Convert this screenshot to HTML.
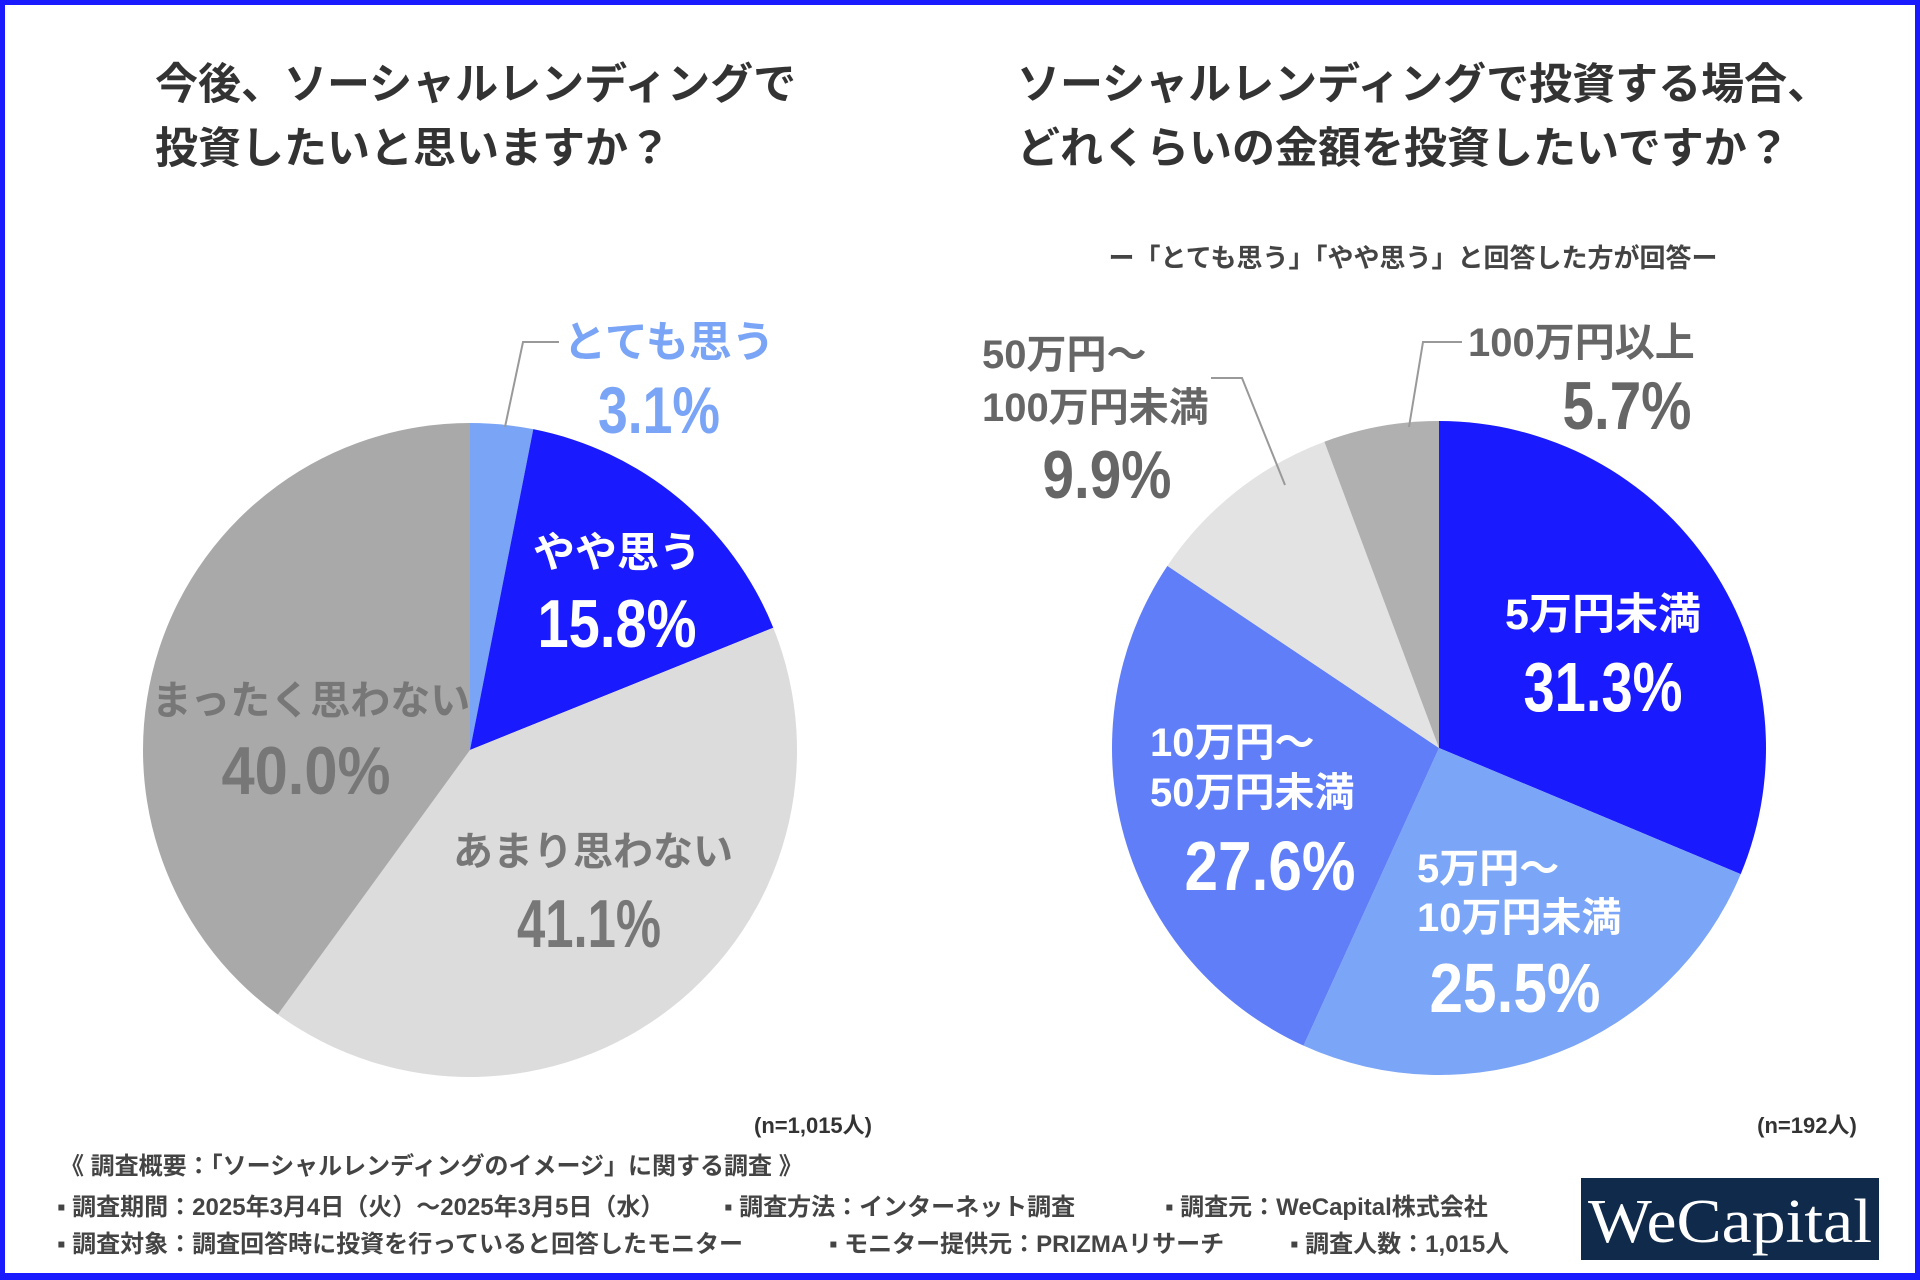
<!DOCTYPE html>
<html><head><meta charset="utf-8">
<style>
html,body{margin:0;padding:0;background:#fff;}
#wrap{position:relative;width:1920px;height:1280px;overflow:hidden;box-sizing:border-box;border:5px solid #1a1aff;border-bottom-width:7px;}
svg{position:absolute;left:0;top:0;}
text{font-family:"Liberation Sans","Noto Sans CJK JP",sans-serif;font-weight:bold;}
</style></head><body>
<div id="wrap">
<svg id="s" width="1920" height="1280" viewBox="0 0 1920 1280">
<g fill="#333" font-size="43">
<text x="150" y="94">今後、ソーシャルレンディングで</text>
<text x="150" y="158">投資したいと思いますか？</text>
<text x="1012" y="94">ソーシャルレンディングで投資する場合、</text>
<text x="1012" y="158">どれくらいの金額を投資したいですか？</text>
</g>
<text x="1408" y="262" font-size="26" fill="#444" text-anchor="middle">ー「とても思う」「やや思う」と回答した方が回答ー</text>
<g id="pies"></g>
<g fill="none" stroke="#999" stroke-width="2">
<polyline points="500,422 518,337 554,337"/>
<polyline points="1206,373 1237,373 1280,480"/>
<polyline points="1404,422 1418,337 1457,337"/>
</g>
<g text-anchor="middle">
<text x="664" y="352" font-size="43" fill="#7aa4f5">とても思う</text>
<text x="654" y="428" font-size="66" fill="#7aa4f5" textLength="122" lengthAdjust="spacingAndGlyphs">3.1%</text>
<text x="612" y="562" font-size="42" fill="#fff">やや思う</text>
<text x="612" y="642" font-size="68" fill="#fff" textLength="159" lengthAdjust="spacingAndGlyphs">15.8%</text>
<text x="306" y="709" font-size="40" fill="#777">まったく思わない</text>
<text x="301" y="789" font-size="68" fill="#777" textLength="169" lengthAdjust="spacingAndGlyphs">40.0%</text>
<text x="588" y="860" font-size="40" fill="#777">あまり思わない</text>
<text x="584" y="942" font-size="68" fill="#777" textLength="144" lengthAdjust="spacingAndGlyphs">41.1%</text>
<text x="1102" y="493" font-size="68" fill="#666" textLength="129" lengthAdjust="spacingAndGlyphs">9.9%</text>
<text x="1622" y="424" font-size="68" fill="#666" textLength="129" lengthAdjust="spacingAndGlyphs">5.7%</text>
<text x="1598" y="624" font-size="43" fill="#fff">5万円未満</text>
<text x="1598" y="706" font-size="70" fill="#fff" textLength="159" lengthAdjust="spacingAndGlyphs">31.3%</text>
<text x="1265" y="885" font-size="70" fill="#fff" textLength="171" lengthAdjust="spacingAndGlyphs">27.6%</text>
<text x="1510" y="1007" font-size="70" fill="#fff" textLength="171" lengthAdjust="spacingAndGlyphs">25.5%</text>
<text x="808" y="1128" font-size="22" fill="#333">(n=1,015人)</text>
<text x="1802" y="1128" font-size="22" fill="#333">(n=192人)</text>
</g>
<g font-size="40">
<text x="977" y="363" fill="#666">50万円〜</text>
<text x="977" y="416" fill="#666">100万円未満</text>
<text x="1463" y="351" fill="#666">100万円以上</text>
<text x="1145" y="751" fill="#fff">10万円〜</text>
<text x="1145" y="801" fill="#fff">50万円未満</text>
<text x="1412" y="877" fill="#fff">5万円〜</text>
<text x="1412" y="926" fill="#fff">10万円未満</text>
</g>
<g font-size="24" fill="#444">
<text x="55" y="1169">《 調査概要：「ソーシャルレンディングのイメージ」に関する調査 》</text>
<text x="52" y="1210">▪ 調査期間：2025年3月4日（火）〜2025年3月5日（水）</text>
<text x="719" y="1210">▪ 調査方法：インターネット調査</text>
<text x="1160" y="1210">▪ 調査元：WeCapital株式会社</text>
<text x="52" y="1247">▪ 調査対象：調査回答時に投資を行っていると回答したモニター</text>
<text x="824" y="1247">▪ モニター提供元：PRIZMAリサーチ</text>
<text x="1285" y="1247">▪ 調査人数：1,015人</text>
</g>
<rect x="1576" y="1173" width="298" height="82" fill="#0f2a4a"/>
<text x="1725" y="1237" font-size="62" fill="#fff" text-anchor="middle" style="font-family:'Liberation Serif',serif;font-weight:normal" textLength="284" lengthAdjust="spacingAndGlyphs">WeCapital</text>
</svg>
</div>
<script>
const leftCategories = ['とても思う','やや思う','あまり思わない','まったく思わない'];
const leftValues = [3.1, 15.8, 41.1, 40.0];
const rightCategories = ['5万円未満','5万円〜10万円未満','10万円〜50万円未満','50万円〜100万円未満','100万円以上'];
const rightValues = [31.3, 25.5, 27.6, 9.9, 5.7];
const leftColors = ['#7aa4f5','#1a1aff','#dcdcdc','#a9a9a9'];
const rightColors = ['#1a1aff','#7ba5f6','#5f7ef8','#e3e3e3','#b0b0b0'];
const NS='http://www.w3.org/2000/svg';
function drawPie(cx,cy,r,vals,cols,prefix){
  const g=document.getElementById('pies');
  const total=vals.reduce((a,b)=>a+b,0);
  let a0=-Math.PI/2;
  vals.forEach((v,i)=>{
    const a1=a0+v/total*2*Math.PI;
    const x0=cx+r*Math.cos(a0),y0=cy+r*Math.sin(a0),x1=cx+r*Math.cos(a1),y1=cy+r*Math.sin(a1);
    const large=(a1-a0)>Math.PI?1:0;
    const p=document.createElementNS(NS,'path');
    p.setAttribute('d',`M${cx},${cy}L${x0},${y0}A${r},${r} 0 ${large} 1 ${x1},${y1}Z`);
    p.setAttribute('fill',cols[i]);
    
    
    g.appendChild(p);
    a0=a1;
  });
}
drawPie(465,745,327,leftValues,leftColors,'left-pie');
drawPie(1434,743,327,rightValues,rightColors,'right-pie');
</script>
</body></html>
